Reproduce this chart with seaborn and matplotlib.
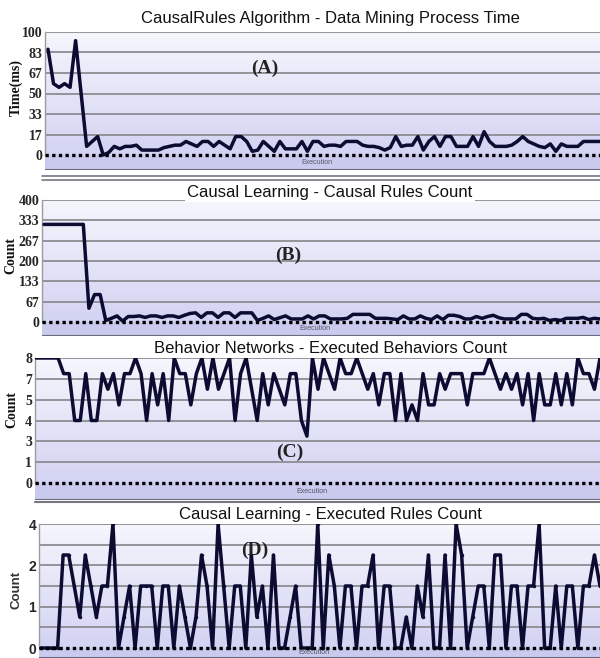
import numpy as np
import pandas as pd
import seaborn as sns
import matplotlib.pyplot as plt
from matplotlib.colors import LinearSegmentedColormap
from matplotlib.lines import Line2D

# -----------------------------
# Data
# -----------------------------
process_time_ms = [
    86, 58, 55, 58, 55, 93, 50, 7, 11, 15, 0, 2, 7, 5, 7, 7, 8, 4, 4, 4,
    4, 6, 7, 8, 8, 11, 9, 7, 11, 11, 7, 11, 8, 5, 15, 15, 11, 3, 4, 11,
    7, 3, 11, 5, 5, 5, 11, 3, 11, 11, 7, 8, 8, 7, 11, 11, 11, 8, 7, 7,
    6, 4, 6, 15, 7, 8, 8, 15, 4, 11, 15, 7, 15, 15, 7, 7, 7, 15, 7, 19,
    11, 7, 7, 7, 8, 11, 15, 11, 9, 7, 6, 9, 3, 9, 7, 7, 7, 11, 11, 11,
    11,
]
causal_rules_count = [
    320, 320, 320, 320, 320, 320, 320, 320, 45, 90, 90, 5, 12, 20, 3, 18, 18, 20, 15, 20,
    20, 15, 20, 20, 15, 22, 28, 30, 15, 30, 30, 15, 30, 30, 15, 30, 30, 30, 5, 12,
    20, 8, 14, 20, 10, 10, 10, 20, 10, 20, 20, 10, 10, 10, 12, 25, 25, 25, 25, 12,
    12, 12, 10, 8, 20, 10, 10, 20, 12, 8, 20, 8, 22, 22, 18, 10, 10, 18, 12, 18,
    22, 14, 10, 10, 10, 25, 25, 12, 10, 12, 5, 8, 5, 12, 12, 12, 15, 8, 12, 10,
]
executed_behaviors = [
    8, 8, 8, 8, 8, 7, 7, 4, 4, 7, 4, 4, 7, 6, 7, 5, 7, 7, 8, 7,
    4, 7, 5, 7, 4, 8, 7, 7, 5, 7, 8, 6, 8, 6, 7, 8, 4, 7, 8, 6,
    4, 7, 5, 7, 6, 5, 7, 7, 4, 3, 8, 6, 8, 7, 6, 8, 7, 7, 8, 7,
    6, 7, 5, 7, 7, 4, 7, 4, 5, 4, 7, 5, 5, 7, 6, 7, 7, 7, 5, 7,
    7, 7, 8, 7, 6, 7, 6, 7, 5, 7, 4, 7, 5, 5, 7, 5, 7, 5, 8, 7,
    7, 6, 8,
]
executed_rules = [
    0, 0, 0, 0, 3, 3, 2, 1, 3, 2, 1, 2, 2, 4, 0, 1, 2, 0, 2, 2,
    2, 0, 2, 2, 0, 2, 1, 0, 1, 3, 2, 0, 4, 2, 0, 2, 2, 0, 3, 1,
    2, 0, 3, 0, 0, 1, 2, 0, 0, 0, 4, 0, 3, 2, 0, 2, 2, 0, 2, 2,
    3, 0, 2, 2, 0, 0, 1, 0, 2, 1, 3, 0, 0, 3, 0, 4, 3, 0, 1, 2,
    2, 0, 3, 3, 0, 2, 2, 0, 2, 2, 4, 0, 0, 2, 0, 2, 2, 0, 2, 2,
    3, 2,
]

titles = [
    "CausalRules Algorithm - Data Mining Process Time",
    "Causal Learning - Causal Rules Count",
    "Behavior Networks - Executed Behaviors Count",
    "Causal Learning - Executed Rules Count",
]
panel_tags = ["(A)", "(B)", "(C)", "(D)"]
ylabels = ["Time(ms)", "Count", "Count", "Count"]
ymax_values = [100, 400, 8, 4]
tick_labels = [
    ["0", "17", "33", "50", "67", "83", "100"],
    ["0", "67", "133", "200", "267", "333", "400"],
    ["0", "1", "3", "4", "5", "7", "8"],
    ["0", "", "1", "", "2", "", "4"],
]

# -----------------------------
# Style
# -----------------------------
sns.set_style("white")
plt.rcParams["font.family"] = ["Liberation Sans", "DejaVu Sans"]

W, H = 600, 658
LINE_COLOR = "#0c0c33"
GRID_COLOR = "#8c8c92"
STRIP_COLOR = "#cacaee"
bg_cmap = LinearSegmentedColormap.from_list("bg", ["#d3d3f3", "#f6f6fd"])

# pixel layout: left, right, top, bottom(strip), zero line, first point x
layout = [
    dict(l=45, r=600, t=32, b=170, zero=155, x0=48, title_y=19, tag=(265, 68), ylab=(16, 88),
         ser=True),
    dict(l=42, r=600, t=200, b=336, zero=322, x0=44, title_y=192, tag=(288, 255), ylab=(11, 255),
         ser=True),
    dict(l=35, r=600, t=358, b=500, zero=483, x0=36, title_y=349, tag=(290, 452), ylab=(12, 410),
         ser=True),
    dict(l=39, r=600, t=524, b=658, zero=648, x0=41, title_y=515, tag=(255, 550), ylab=(16, 590),
         ser=False),
]
series = [process_time_ms, causal_rules_count, executed_behaviors, executed_rules]

fig = plt.figure(figsize=(W / 100, H / 100), dpi=100)


def px_rect(l, r, t, b):
    return [l / W, 1 - b / H, (r - l) / W, (b - t) / H]


for k, (vals, cfg) in enumerate(zip(series, layout)):
    ax = fig.add_axes(px_rect(cfg["l"], cfg["r"], cfg["t"], cfg["b"]))
    ymax = ymax_values[k]
    n = len(vals)
    df = pd.DataFrame({"execution": np.arange(n), "value": vals})

    # y scale so that ymax sits at the top and 0 at the dotted line
    per_px = ymax / (cfg["zero"] - cfg["t"])
    ybot = -(cfg["b"] - cfg["zero"]) * per_px
    step = (cfg["r"] - cfg["x0"]) / (n - 1)
    xl = (-(cfg["x0"] - cfg["l"]) / step, n - 1)

    ax.imshow(np.linspace(0, 1, 256).reshape(-1, 1), cmap=bg_cmap, origin="lower",
              extent=(xl[0], xl[1], 0, ymax), aspect="auto", zorder=0)
    ax.axhspan(ybot, 0, color=STRIP_COLOR, lw=0, zorder=0.5)

    ticks = np.linspace(0, ymax, 7)
    for tv in ticks[1:]:
        ax.axhline(tv, color=GRID_COLOR, lw=1.3, zorder=1)

    sns.lineplot(data=df, x="execution", y="value", ax=ax, color=LINE_COLOR,
                 lw=2.5, zorder=3, marker="o" if k == 3 else None, markersize=2.5,
                 markeredgewidth=0)
    ax.axhline(0, color="black", lw=2.4, ls=(0, (1, 1)), zorder=4)
    ax.axhline(ybot, color="#6a6a80", lw=1.5, zorder=4)

    ax.set_xlim(*xl)
    ax.set_ylim(ybot, ymax)
    ax.set_xticks([])
    fam = ["Liberation Serif", "DejaVu Serif"] if cfg["ser"] else ["Liberation Sans", "DejaVu Sans"]
    ax.set_yticks(ticks, tick_labels[k], fontfamily=fam, fontweight="bold", fontsize=10)
    ax.tick_params(axis="y", length=0, pad=2)
    ax.set_xlabel("")
    ax.set_ylabel("")
    for side in ["top", "right", "bottom"]:
        ax.spines[side].set_visible(False)
    ax.spines["left"].set_color("#9a9aa0")
    ax.spines["left"].set_linewidth(1.0)
    ax.spines["left"].set_bounds(0, ymax)

    ax.text(0.5 * (xl[0] + xl[1]) - 1, ybot * 0.5, "Execution", ha="center", va="center",
            fontsize=5, color="#555566", zorder=5)

    # title, panel tag and y label
    fig.text(330 / W, 1 - cfg["title_y"] / H, titles[k], ha="center", va="center",
             fontsize=12, color="#111111", zorder=10,
             bbox=dict(facecolor="white", edgecolor="none", pad=1.5) if k == 1 else None)
    fig.text(cfg["tag"][0] / W, 1 - cfg["tag"][1] / H, panel_tags[k], ha="center", va="center",
             fontsize=14, fontweight="bold", family=["Liberation Serif", "DejaVu Serif"],
             color="#222222", zorder=10)
    fig.text(cfg["ylab"][0] / W, 1 - cfg["ylab"][1] / H, ylabels[k], ha="center", va="center",
             rotation=90, fontsize=10 if cfg["ser"] else 9.5, fontweight="bold", family=fam,
             color="#111111" if cfg["ser"] else "#333333", zorder=10)

# separator lines between the screenshots
for yy in [176, 180]:
    fig.add_artist(Line2D([42 / W, 1], [1 - yy / H, 1 - yy / H], color="#777780", lw=1.2))
fig.add_artist(Line2D([35 / W, 1], [1 - 502 / H, 1 - 502 / H], color="#777780", lw=1.5))

fig.savefig("out.png", dpi=100)
